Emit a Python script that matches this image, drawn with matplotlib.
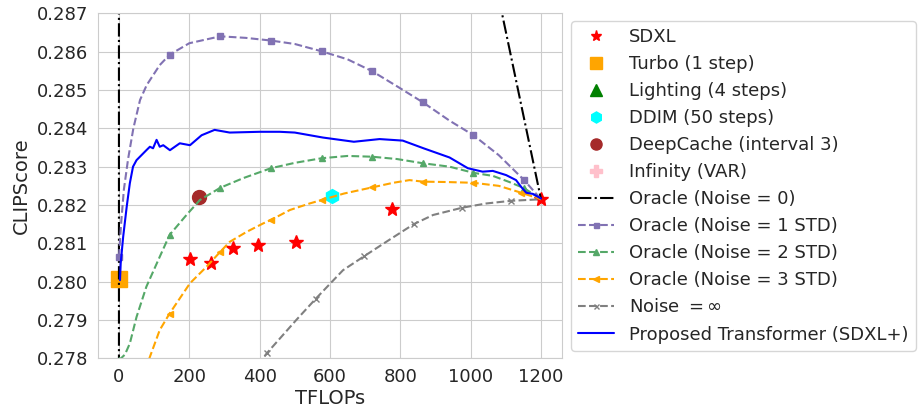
import matplotlib
matplotlib.use("Agg")
import matplotlib.pyplot as plt
import seaborn as sns

# ---------------- data ----------------
sdxl_x = [202, 263, 325, 394, 503, 777, 1200]
sdxl_y = [0.28058, 0.28049, 0.28087, 0.28095, 0.28103, 0.28189, 0.28215]
turbo_x = [0]
turbo_y = [0.28006]
lightning_x = [20]
lightning_y = [0.2760]
ddim_x = [607]
ddim_y = [0.28223]
deepcache_x = [228]
deepcache_y = [0.28220]
infinity_x = [400]
infinity_y = [0.2700]

oracle0_x = [0, 0, 1200]
oracle0_y = [0.2700, 0.3346, 0.28215]

oracle1_x = [0, 6, 14, 26, 41, 60, 79, 116, 144, 200, 288, 360, 432, 500, 576, 650,
             720, 790, 864, 940, 1008, 1080, 1152, 1200]
oracle1_y = [0.28065, 0.2815, 0.2824, 0.2832, 0.2840, 0.28474, 0.28513, 0.28565,
             0.28592, 0.28622, 0.2864, 0.28636, 0.28629, 0.2862, 0.28601, 0.2858,
             0.28549, 0.2851, 0.28468, 0.2842, 0.28382, 0.2833, 0.28265, 0.28215]
oracle1_marks = [0, 8, 10, 12, 14, 16, 18, 20, 22]

oracle2_x = [0, 17, 31, 50, 78, 116, 144, 192, 230, 288, 353, 432, 500, 576, 650,
             720, 790, 864, 940, 1008, 1063, 1110, 1152, 1200]
oracle2_y = [0.27795, 0.2781, 0.27839, 0.27908, 0.27987, 0.28065, 0.28122, 0.28174,
             0.28213, 0.28245, 0.2827, 0.28296, 0.2831, 0.28322, 0.28328, 0.28326,
             0.2832, 0.28309, 0.2830, 0.28284, 0.28276, 0.2826, 0.28244, 0.28215]
oracle2_marks = [0, 6, 9, 11, 13, 15, 17, 19, 22]

oracle3_x = [0, 50, 88, 116, 144, 202, 249, 288, 315, 363, 410, 432, 486, 542, 576,
             640, 720, 780, 826, 864, 930, 1008, 1080, 1144, 1200]
oracle3_y = [0.2752, 0.2770, 0.27804, 0.27874, 0.27917, 0.27996, 0.28039, 0.28078,
             0.28104, 0.2813, 0.28152, 0.28161, 0.28187, 0.28204, 0.28213, 0.2823,
             0.28246, 0.28258, 0.28265, 0.28261, 0.2826, 0.28258, 0.2825, 0.28232,
             0.28215]
oracle3_marks = [0, 4, 7, 11, 14, 16, 19, 21, 23]

noiseinf_x = [0, 139, 278, 360, 420, 504, 560, 637, 698, 770, 838, 893, 976, 1044,
              1115, 1200]
noiseinf_y = [0.2705, 0.2735, 0.2760, 0.2774, 0.27813, 0.2790, 0.27956, 0.2803,
              0.28067, 0.2811, 0.2815, 0.28174, 0.28193, 0.28204, 0.28211, 0.28215]
noiseinf_marks = [0, 1, 2, 4, 6, 8, 10, 12, 14]

prop_x = [3, 5, 12, 22, 31, 40, 50, 64, 78, 88, 97, 107, 116, 126, 145, 173, 202,
          235, 272, 315, 400, 457, 500, 580, 668, 741, 807, 866, 940, 992, 1034,
          1063, 1101, 1129, 1143, 1158, 1177, 1200]
prop_y = [0.28004, 0.28048, 0.28117, 0.28195, 0.28257, 0.28300, 0.28317, 0.28330,
          0.28343, 0.28352, 0.28348, 0.28370, 0.28352, 0.28356, 0.28343, 0.28361,
          0.28356, 0.28382, 0.28396, 0.28389, 0.28391, 0.28391, 0.28389, 0.28376,
          0.28365, 0.28372, 0.28368, 0.28348, 0.28324, 0.28296, 0.28287, 0.28289,
          0.28278, 0.28265, 0.28248, 0.28232, 0.28229, 0.28217]

xticks = [0, 200, 400, 600, 800, 1000, 1200]
yticks = [0.278, 0.279, 0.280, 0.281, 0.282, 0.283, 0.284, 0.285, 0.286, 0.287]

# ---------------- plot ----------------
sns.set_style("whitegrid")
plt.rcParams["font.family"] = ["DejaVu Sans"]

fig = plt.figure(figsize=(9.23, 4.11), dpi=100)
ax = fig.add_axes([0.106, 0.128, 0.503, 0.8396])

ms = 10
ax.plot(sdxl_x, sdxl_y, ls="none", marker="*", color="red", ms=ms, label="SDXL")
ax.plot(turbo_x, turbo_y, ls="none", marker="s", color="orange", ms=11, label="Turbo (1 step)")
ax.plot(lightning_x, lightning_y, ls="none", marker="^", color="green", ms=ms, label="Lighting (4 steps)")
ax.plot(ddim_x, ddim_y, ls="none", marker="h", color="cyan", ms=ms, label="DDIM (50 steps)")
ax.plot(deepcache_x, deepcache_y, ls="none", marker="o", color="brown", ms=ms, label="DeepCache (interval 3)")
ax.plot(infinity_x, infinity_y, ls="none", marker="P", color="pink", ms=ms, label="Infinity (VAR)")

ax.plot(oracle0_x, oracle0_y, ls="-.", color="black", lw=1.5, label="Oracle (Noise = 0)")
ax.plot(oracle1_x, oracle1_y, ls="--", color="#8172B3", lw=1.5, marker="s", ms=4.5,
        markevery=oracle1_marks, label="Oracle (Noise = 1 STD)")
ax.plot(oracle2_x, oracle2_y, ls="--", color="#55A868", lw=1.5, marker="^", ms=5,
        markevery=oracle2_marks, label="Oracle (Noise = 2 STD)")
ax.plot(oracle3_x, oracle3_y, ls="--", color="orange", lw=1.5, marker="<", ms=5,
        markevery=oracle3_marks, label="Oracle (Noise = 3 STD)")
ax.plot(noiseinf_x, noiseinf_y, ls="--", color="gray", lw=1.5, marker="x", ms=4.5,
        markevery=noiseinf_marks, label="Noise $=\\infty$")
ax.plot(prop_x, prop_y, ls="-", color="blue", lw=1.5, label="Proposed Transformer (SDXL+)")

ax.set_xlim(-60, 1260)
ax.set_ylim(0.278, 0.287)
ax.set_xticks(xticks)
ax.set_yticks(yticks)
ax.set_yticklabels([f"{v:.3f}" for v in yticks])
ax.tick_params(labelsize=13)
ax.set_xlabel("TFLOPs", fontsize=14, labelpad=2)
ax.set_ylabel("CLIPScore", fontsize=14)

ax.legend(loc="center left", bbox_to_anchor=(1.0, 0.5), fontsize=13,
          labelspacing=0.5, handlelength=2.0, borderpad=0.4, markerscale=0.8)

fig.savefig("out.png", dpi=100)
